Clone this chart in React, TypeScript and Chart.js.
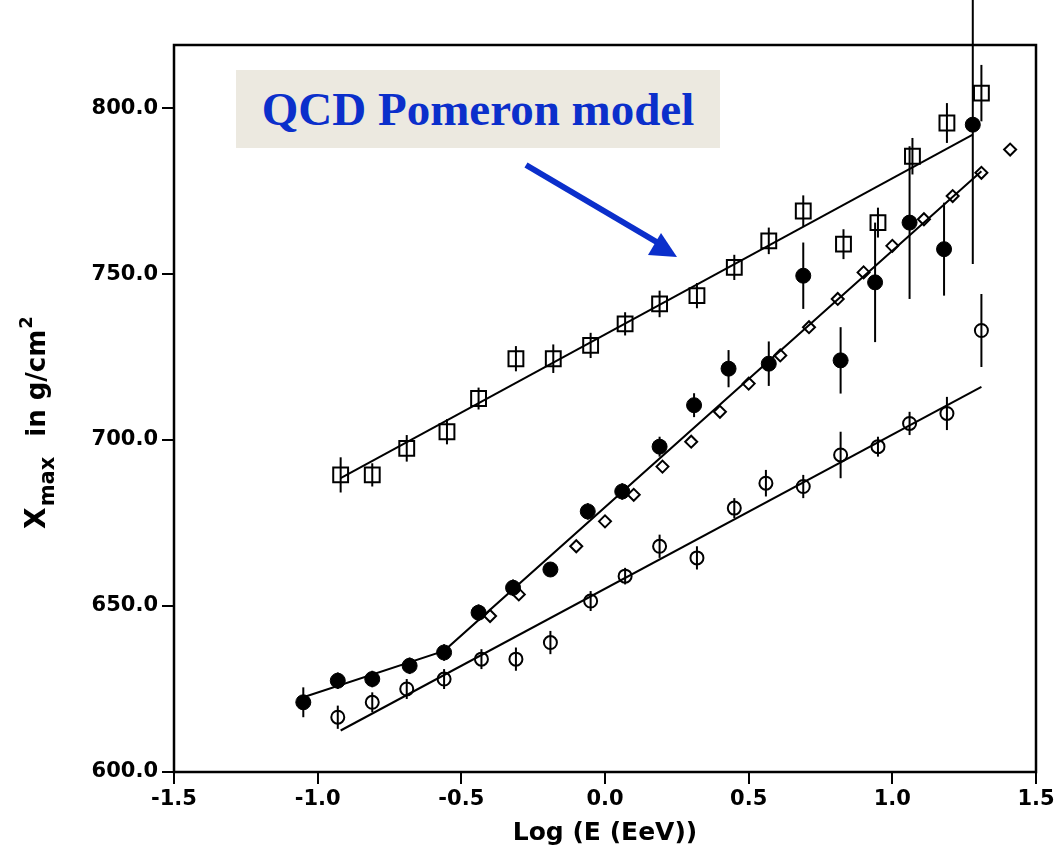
import React, { useEffect, useRef } from 'react';
import { Chart, registerables } from 'chart.js';

Chart.register(...registerables);

// ---- axis ticks ----
const xTickValues = [-1.5, -1.0, -0.5, 0.0, 0.5, 1.0, 1.5];
const xTickLabels = ['-1.5', '-1.0', '-0.5', '0.0', '0.5', '1.0', '1.5'];
const yTickValues = [600, 650, 700, 750, 800];
const yTickLabels = ['600.0', '650.0', '700.0', '750.0', '800.0'];

// ---- open squares (upper series) ----
const squareX = [-0.92, -0.81, -0.69, -0.55, -0.44, -0.31, -0.18, -0.05, 0.07, 0.19, 0.32, 0.45, 0.57, 0.69, 0.83, 0.95, 1.07, 1.19, 1.31];
const squareY = [689.5, 689.5, 697.5, 702.5, 712.5, 724.5, 724.5, 728.5, 735, 741, 743.5, 752, 760, 769, 759, 765.5, 785.5, 795.5, 804.5];
const squareErr = [5.3, 3.5, 4, 3.8, 3.3, 3.8, 4.3, 3.8, 3.5, 4, 3.8, 3.8, 4, 4.7, 4.5, 4.5, 5.5, 6, 8.5];

// ---- filled circles ----
const dotX = [-1.05, -0.93, -0.81, -0.68, -0.56, -0.44, -0.32, -0.19, -0.06, 0.06, 0.19, 0.31, 0.43, 0.57, 0.69, 0.82, 0.94, 1.06, 1.18, 1.28];
const dotY = [621, 627.5, 628, 632, 636, 648, 655.5, 661, 678.5, 684.5, 698, 710.5, 721.5, 723, 749.5, 724, 747.5, 765.5, 757.5, 795];
const dotErr = [4.5, 2.5, 2.5, 2.5, 2.5, 2.5, 2.5, 2, 2.5, 2.5, 3, 3.6, 5.6, 6.7, 10, 10, 18, 23, 14, 42];

// ---- open diamonds ----
const diamondX = [-0.40, -0.30, -0.10, 0.00, 0.10, 0.20, 0.30, 0.40, 0.50, 0.61, 0.71, 0.81, 0.90, 1.00, 1.11, 1.21, 1.31, 1.41];
const diamondY = [647, 653.5, 668, 675.5, 683.5, 692, 699.5, 708.5, 717, 725.5, 734, 742.5, 750.5, 758.5, 766.5, 773.5, 780.5, 787.5];

// ---- open circles (lower series) ----
const circleX = [-0.93, -0.81, -0.69, -0.56, -0.43, -0.31, -0.19, -0.05, 0.07, 0.19, 0.32, 0.45, 0.56, 0.69, 0.82, 0.95, 1.06, 1.19, 1.31];
const circleY = [616.5, 621, 625, 628, 634, 634, 639, 651.5, 659, 668, 664.5, 679.5, 687, 686, 695.5, 698, 705, 708, 733];
const circleErr = [3.5, 3, 3, 3, 3, 3.5, 3.5, 3, 2.5, 3.5, 3.5, 3, 4, 3.5, 7, 3, 3.5, 5, 11];

// ---- fitted model lines ----
const fitTopX = [-0.92, 1.28];
const fitTopY = [688.5, 792];
const fitMidX = [-1.05, -0.56, 1.31];
const fitMidY = [622.5, 636.5, 781];
const fitLowX = [-0.92, 1.31];
const fitLowY = [612.5, 716];

const zip = (xs: number[], ys: number[]) => xs.map((x, i) => ({ x, y: ys[i] }));

const AXIS_FONT = '"DejaVu Sans", "Liberation Sans", sans-serif';

export default function App() {
  const canvasRef = useRef<HTMLCanvasElement>(null);

  useEffect(() => {
    document.body.style.margin = '0';
    const canvas = canvasRef.current;
    if (!canvas) return;

    const errorBars = {
      id: 'errorBars',
      beforeDatasetsDraw(chart: any) {
        const { ctx } = chart;
        const xs = chart.scales.x;
        const ys = chart.scales.y;
        ctx.save();
        ctx.strokeStyle = '#000';
        ctx.lineWidth = 2;
        chart.data.datasets.forEach((ds: any) => {
          if (!ds.errors) return;
          ds.data.forEach((p: any, i: number) => {
            const e = ds.errors[i];
            if (!e) return;
            const px = xs.getPixelForValue(p.x);
            ctx.beginPath();
            ctx.moveTo(px, ys.getPixelForValue(p.y - e));
            ctx.lineTo(px, ys.getPixelForValue(p.y + e));
            ctx.stroke();
          });
        });
        ctx.restore();
      },
    };

    const frame = {
      id: 'frame',
      afterDraw(chart: any) {
        const { ctx, chartArea: a } = chart;
        ctx.save();
        ctx.strokeStyle = '#000';
        ctx.lineWidth = 2.5;
        ctx.strokeRect(a.left, a.top, a.right - a.left, a.bottom - a.top);
        ctx.restore();
      },
    };

    const yTitle = {
      id: 'yTitle',
      afterDraw(chart: any) {
        const { ctx, chartArea: a } = chart;
        const parts = [
          { t: 'X', size: 28, dy: 0, gap: 0 },
          { t: 'max', size: 21, dy: 9, gap: 1 },
          { t: 'in g/cm', size: 26, dy: 0, gap: 20 },
          { t: '2', size: 18, dy: -13, gap: 1 },
        ];
        ctx.save();
        ctx.fillStyle = '#000';
        ctx.textBaseline = 'alphabetic';
        ctx.textAlign = 'left';
        let total = 0;
        const widths = parts.map((p) => {
          ctx.font = `bold ${p.size}px ${AXIS_FONT}`;
          const w = ctx.measureText(p.t).width;
          total += w + p.gap;
          return w;
        });
        const cy = (a.top + a.bottom) / 2 + 14;
        ctx.translate(45, cy);
        ctx.rotate(-Math.PI / 2);
        let x = -total / 2;
        parts.forEach((p, i) => {
          x += p.gap;
          ctx.font = `bold ${p.size}px ${AXIS_FONT}`;
          ctx.fillText(p.t, x, p.dy);
          x += widths[i];
        });
        ctx.restore();
      },
    };

    const chart = new Chart(canvas, {
      type: 'scatter',
      data: {
        datasets: [
          {
            label: 'fit upper',
            data: zip(fitTopX, fitTopY),
            showLine: true,
            borderColor: '#000',
            borderWidth: 2,
            pointRadius: 0,
            fill: false,
          },
          {
            label: 'fit middle',
            data: zip(fitMidX, fitMidY),
            showLine: true,
            borderColor: '#000',
            borderWidth: 2,
            pointRadius: 0,
            fill: false,
          },
          {
            label: 'fit lower',
            data: zip(fitLowX, fitLowY),
            showLine: true,
            borderColor: '#000',
            borderWidth: 2,
            pointRadius: 0,
            fill: false,
          },
          {
            label: 'filled circles',
            data: zip(dotX, dotY),
            errors: dotErr,
            pointStyle: 'circle',
            pointRadius: 7.5,
            backgroundColor: '#000',
            borderColor: '#000',
            borderWidth: 1,
          } as any,
          {
            label: 'open squares',
            data: zip(squareX, squareY),
            errors: squareErr,
            pointStyle: 'rect',
            pointRadius: 10.5,
            backgroundColor: 'rgba(0,0,0,0)',
            borderColor: '#000',
            borderWidth: 2,
          } as any,
          {
            label: 'open diamonds',
            data: zip(diamondX, diamondY),
            pointStyle: 'rectRot',
            pointRadius: 6,
            backgroundColor: 'rgba(0,0,0,0)',
            borderColor: '#000',
            borderWidth: 2,
          },
          {
            label: 'open circles',
            data: zip(circleX, circleY),
            errors: circleErr,
            pointStyle: 'circle',
            pointRadius: 6.5,
            backgroundColor: 'rgba(0,0,0,0)',
            borderColor: '#000',
            borderWidth: 2,
          } as any,
        ],
      },
      options: {
        animation: false,
        responsive: false,
        maintainAspectRatio: false,
        layout: { padding: { top: 45, right: 25, left: 0, bottom: 0 } },
        plugins: {
          legend: { display: false },
          title: { display: false },
          tooltip: { enabled: false },
        },
        scales: {
          x: {
            type: 'linear',
            min: -1.5,
            max: 1.5,
            afterBuildTicks: (scale: any) => {
              scale.ticks = xTickValues.map((v) => ({ value: v }));
            },
            afterFit: (scale: any) => {
              scale.height = 80;
            },
            ticks: {
              autoSkip: false,
              maxRotation: 0,
              padding: 3,
              color: '#000',
              font: { family: AXIS_FONT, size: 21, weight: 'bold' },
              callback: (_v: any, i: number) => xTickLabels[i],
            },
            grid: {
              display: true,
              drawOnChartArea: false,
              drawTicks: true,
              tickLength: 12,
              color: '#000',
              lineWidth: 2,
            },
            border: { display: false },
            title: {
              display: true,
              text: 'Log (E (EeV))',
              color: '#000',
              font: { family: AXIS_FONT, size: 25, weight: 'bold' },
              padding: { top: 0, bottom: 4 },
            },
          },
          y: {
            type: 'linear',
            min: 600,
            max: 819,
            afterBuildTicks: (scale: any) => {
              scale.ticks = yTickValues.map((v) => ({ value: v }));
            },
            afterFit: (scale: any) => {
              scale.width = 174;
            },
            ticks: {
              autoSkip: false,
              padding: 4,
              color: '#000',
              font: { family: AXIS_FONT, size: 21, weight: 'bold' },
              callback: (_v: any, i: number) => yTickLabels[i],
            },
            grid: {
              display: true,
              drawOnChartArea: false,
              drawTicks: true,
              tickLength: 12,
              color: '#000',
              lineWidth: 2,
            },
            border: { display: false },
            title: { display: false },
          },
        },
      },
      plugins: [errorBars, frame, yTitle],
    } as any);

    return () => chart.destroy();
  }, []);

  return (
    <div style={{ position: 'relative', width: 1061, height: 852, background: '#fff', overflow: 'hidden' }}>
      <canvas ref={canvasRef} width={1061} height={852} style={{ display: 'block' }} />
      <div
        style={{
          position: 'absolute',
          left: 236,
          top: 70,
          width: 484,
          height: 78,
          background: '#ECE9E0',
          display: 'flex',
          alignItems: 'center',
          justifyContent: 'center',
          fontFamily: '"Liberation Serif", "Times New Roman", serif',
          fontWeight: 'bold',
          fontSize: 47,
          color: '#0B2FCB',
          whiteSpace: 'nowrap',
          lineHeight: 1,
        }}
      >
        QCD Pomeron model
      </div>
      <svg
        width={1061}
        height={852}
        style={{ position: 'absolute', left: 0, top: 0, pointerEvents: 'none' }}
      >
        <line x1={526} y1={165} x2={660} y2={244} stroke="#0B2FCB" strokeWidth={6} />
        <polygon points="677,257 661,233 648,255" fill="#0B2FCB" />
      </svg>
    </div>
  );
}
